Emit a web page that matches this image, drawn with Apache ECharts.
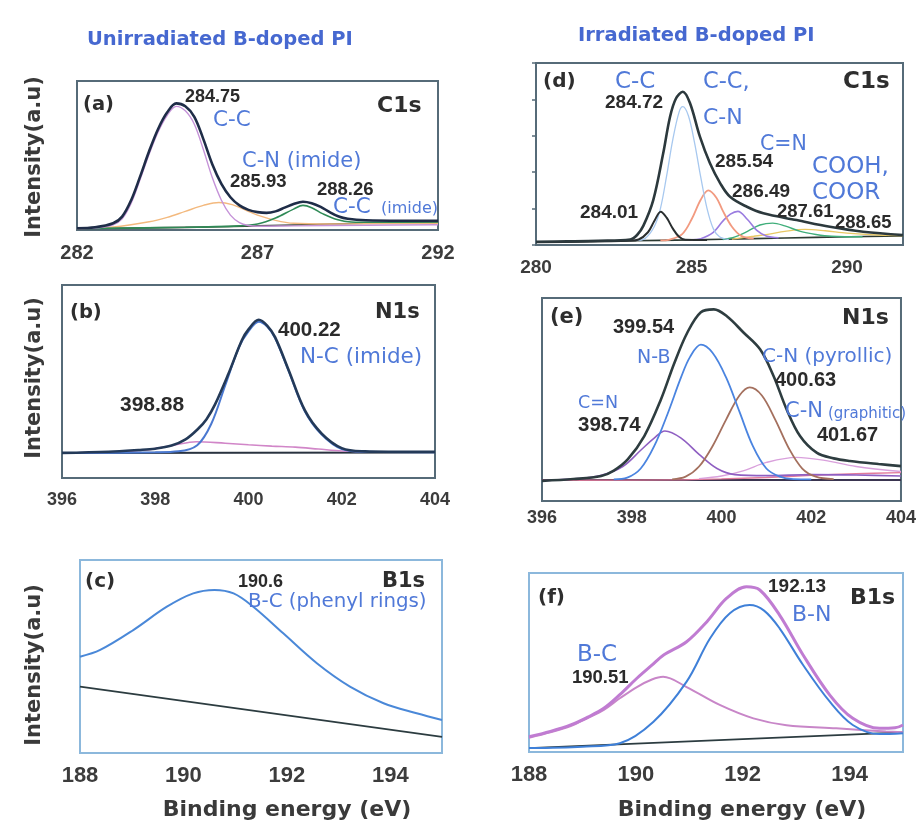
<!DOCTYPE html>
<html>
<head>
<meta charset="utf-8">
<script src="https://cdn.jsdelivr.net/npm/echarts@6/dist/echarts.min.js"></script>
<style>
  html, body { margin: 0; padding: 0; background: #fff; }
  #chart { width: 919px; height: 824px; }
</style>
</head>
<body>
<div id="chart"></div>
<script>
// ---- XPS spectra, [binding energy (eV), relative intensity] ----

// (a) C1s, unirradiated
const A_ENVELOPE = [[282,1.2],[282.5,1.8],[283,4.5],[283.25,9],[283.5,20],[283.75,36],[284,53],[284.25,68],[284.5,79],[284.75,85],[285,83],[285.25,76],[285.5,61],[285.75,44],[286,31],[286.25,22],[286.5,16.5],[286.75,13.5],[287,12],[287.25,11.5],[287.5,12.5],[287.75,15],[288,17.5],[288.26,19],[288.5,18],[288.75,15.5],[289,12],[289.25,9],[289.5,7.5],[290,6.5],[291,6.2],[292,6.2]];
const A_CC = [[282,1],[282.5,1.3],[283,3.5],[283.25,7.5],[283.5,18],[283.75,34],[284,51],[284.25,66],[284.5,77],[284.75,83],[285,80],[285.25,71],[285.5,54],[285.75,35],[286,20],[286.25,10],[286.5,5],[286.75,3],[287,2.5],[288,2.8],[290,3.2],[292,3.5]];
const A_CN = [[282,1],[283,2],[284,5.5],[284.5,8.5],[285,12.5],[285.5,16.5],[285.93,18.5],[286.3,17],[286.7,13],[287,10],[287.5,6.5],[288,4.5],[289,4],[290,4.2],[292,4.5]];
const A_IMIDE = [[282,1],[285,1.8],[286.5,2.8],[287,4],[287.5,8],[288,14],[288.26,16.5],[288.5,15],[288.8,11],[289.2,7],[289.6,5.4],[290.2,5.2],[292,5.4]];
const A_BG = [[282,1],[284,1.4],[286,2.2],[288,3.4],[290,4.5],[292,5]];

// (b) N1s, unirradiated
const B_ENVELOPE = [[396,13],[397,13.6],[397.64,14.5],[398,15.2],[398.35,16.8],[398.65,20],[398.92,25.5],[399.1,30.5],[399.28,38],[399.57,54],[399.86,71.5],[400,77],[400.22,82],[400.4,79],[400.57,73],[400.86,56],[401.21,35],[401.57,23],[402,15.5],[402.5,13.8],[403,13.6],[404,13.6]];
const B_NC = [[396,13],[398,13.3],[398.5,13.8],[398.9,17],[399.2,28],[399.5,48],[399.8,68],[400,76],[400.22,81],[400.4,78.5],[400.57,72.5],[400.86,55.5],[401.21,34.5],[401.57,22.5],[402,15],[402.5,13.6],[404,13.4]];
const B_LOW = [[396,13],[397,13.4],[397.8,14.5],[398.4,17],[398.88,18.8],[399.5,18],[400,17.2],[400.5,16.5],[401,16],[401.5,15],[402,14],[403,13.5],[404,13.4]];
const B_BG = [[396,13],[404,13.2]];

// (c) B1s, unirradiated
const C_BC = [[188,49.9],[188.39,53.4],[189.03,63.7],[189.68,75.8],[190.19,82.7],[190.6,84.5],[190.97,82.7],[191.35,75.8],[191.93,62],[192.58,46.5],[193.22,34.4],[193.87,25.8],[194.51,20.6],[195,17.1]];
const C_BG = [[188,34.4],[195,8.4]];

// (d) C1s, irradiated
const D_ENVELOPE = [[280,1.8],[281,2],[282,2.3],[283.03,3],[283.25,5.5],[283.45,10.5],[283.77,24.7],[284.09,50.4],[284.31,70.5],[284.5,80.5],[284.72,84.2],[284.95,78],[285.27,59.5],[285.59,45],[285.92,34],[286.24,26.5],[286.78,21],[287.31,17.4],[288.38,13.7],[289.45,10],[290.52,7.3],[291.8,5.5]];
const D_284 = [[280,1.5],[283,2.3],[283.3,3],[283.6,7],[283.8,13],[284.01,18.3],[284.2,15],[284.4,9],[284.6,4.5],[284.8,2.9],[285.5,2.8]];
const D_CC = [[283.2,2.5],[283.5,3.5],[283.8,10],[284,20],[284.2,38],[284.4,58],[284.6,73],[284.72,76],[284.9,71],[285.1,56],[285.3,37],[285.5,20],[285.7,9],[285.9,4.5],[286.2,3]];
const D_CCN = [[284,2.5],[284.3,3],[284.7,6],[285,14],[285.3,25],[285.54,30],[285.8,26],[286,19],[286.3,10],[286.6,5],[287,3.5]];
const D_CEN = [[285,2.8],[285.3,3.5],[285.7,7],[286,13],[286.25,17],[286.49,18.5],[286.8,14],[287.1,8],[287.4,5],[287.8,4]];
const D_287 = [[286,3],[286.4,4.5],[286.8,7.5],[287.2,11],[287.61,12],[288,10.5],[288.5,7.5],[289,5.8],[289.5,4.8],[290.5,4.5]];
const D_COOH = [[286.3,3.2],[287,4.8],[287.5,6],[288,7.5],[288.65,8.6],[289.3,7.8],[290,6.5],[291,5.5],[291.8,5.2]];
const D_BG = [[280,1.5],[283,2.3],[285,2.8],[287,3.5],[289,4.2],[291.8,5]];

// (e) N1s, irradiated
const E_ENVELOPE = [[396,9.9],[396.7,10.8],[397.32,12.3],[397.6,15],[397.91,20.5],[398.28,32],[398.65,50],[398.95,68],[399.24,83],[399.54,93],[399.83,94.4],[400.12,91],[400.49,83],[400.86,74.7],[401.16,61.6],[401.45,45.2],[401.75,32],[402.12,23.8],[402.5,21],[402.86,19.7],[403.5,18.2],[404,17.2]];
const E_NB = [[397.6,10.7],[397.9,11.5],[398.2,16],[398.5,27],[398.8,43],[399.1,61],[399.3,71],[399.54,77],[399.8,73],[400.1,61],[400.4,44],[400.7,27],[401,16],[401.3,12],[401.6,10.8],[402,10.7]];
const E_CEN = [[396,10],[396.8,11],[397.3,12.5],[397.8,17],[398.2,25],[398.5,31],[398.74,34.5],[399.1,31],[399.5,23],[399.9,16],[400.3,13],[401,12.5],[402,13],[403,12.8],[404,12.3]];
const E_PYR = [[398.9,10.7],[399.2,12],[399.5,17],[399.8,27],[400.1,40],[400.4,52],[400.63,56],[400.9,52],[401.2,40],[401.5,26],[401.8,16],[402.1,12],[402.5,10.8]];
const E_GRA = [[399.5,11],[400,12.3],[400.5,15],[401,19],[401.67,21.5],[402.3,20],[403,17],[404,14.5]];
const E_BG = [[396,10.2],[399,10.4],[400,10.9],[401,11.6],[402,12.6],[403,13.4],[404,14]];
const E_FLAT = [[396,10.4],[404,10.4]];

// (f) B1s, irradiated
const F_ENVELOPE = [[188,8.5],[188.4,11.5],[188.78,15.1],[189.1,19.5],[189.4,24.4],[189.7,32],[190.02,41.2],[190.3,48.5],[190.52,54.2],[190.95,61.6],[191.33,72.8],[191.7,85.9],[192.07,92.3],[192.32,90.5],[192.69,76.5],[193.13,54.2],[193.63,31.8],[194.06,18.8],[194.56,13.2],[194.85,13.5],[195,15.1]];
const F_BN = [[188,2.2],[189,3],[189.7,4.9],[190.33,16.9],[190.95,39.3],[191.39,63.5],[191.76,77.5],[192.13,82.1],[192.4,79],[192.69,69.1],[193.13,48.6],[193.63,28.1],[194.06,15.1],[194.56,10],[195,10.5]];
const F_BC = [[188,8],[188.4,11],[188.78,14.5],[189.1,19],[189.4,23.5],[189.7,30],[190.02,36.3],[190.3,40.5],[190.51,42],[190.95,36.3],[191.57,26.3],[192.2,18.8],[192.82,15],[193.75,13.2],[194.68,11.5],[195,11]];
const F_BG = [[188,2.2],[195,11]];

// ---- axis ranges and tick labels ----
const X_RANGES = [[282,292],[396,404],[188,195],[280,291.8],[396,404],[188,195]];
const X_TICKS = [[282,287,292],[396,398,400,402,404],[188,190,192,194],[280,285,290],[396,398,400,402,404],[188,190,192,194]];

// ---- layout ----
const FONT_TXT = "'DejaVu Sans', sans-serif";
const FONT_NUM = "'Liberation Sans', Arial, sans-serif";
const BLUE = '#5079d8';
const DARK = '#2b2b2b';

const panels = [
  { left: 77,  top: 81,  width: 361, height: 149, border: '#566b78', tickSize: 20, margin: 13 },
  { left: 62,  top: 285, width: 373, height: 193, border: '#566b78', tickSize: 18, margin: 13 },
  { left: 80,  top: 560, width: 362, height: 193, border: '#8cb8dc', tickSize: 22, margin: 12 },
  { left: 536, top: 63,  width: 367, height: 182, border: '#566b78', tickSize: 19, margin: 13 },
  { left: 542, top: 298, width: 361, height: 203, border: '#566b78', tickSize: 18, margin: 8 },
  { left: 529, top: 573, width: 374, height: 179, border: '#8cb8dc', tickSize: 22, margin: 12 }
];

const grid = panels.map(p => ({
  left: p.left, top: p.top, width: p.width, height: p.height,
  show: true, borderColor: p.border, borderWidth: 2, backgroundColor: 'transparent'
}));

const xAxis = panels.map((p, i) => ({
  type: 'value', gridIndex: i, min: X_RANGES[i][0], max: X_RANGES[i][1],
  axisLine: { show: false }, axisTick: { show: false }, splitLine: { show: false },
  axisLabel: {
    customValues: X_TICKS[i], fontSize: p.tickSize, fontFamily: FONT_NUM,
    fontWeight: 'bold', color: '#3c3c3c', margin: p.margin
  }
}));

const yAxis = panels.map((p, i) => ({
  type: 'value', gridIndex: i, min: 0, max: 100, interval: 20,
  axisLine: { show: false }, splitLine: { show: false }, axisLabel: { show: false },
  axisTick: i === 3 ? { show: true, length: 4, inside: false, lineStyle: { color: '#566b78', width: 1.5 } } : { show: false }
}));

function line(grid, data, color, width, z) {
  return {
    type: 'line', xAxisIndex: grid, yAxisIndex: grid, data: data,
    showSymbol: false, smooth: 0.35, silent: true, z: z || 2,
    lineStyle: { color: color, width: width }
  };
}

const series = [
  // (a)
  line(0, A_BG, '#3d4a3a', 1.6),
  line(0, A_CN, '#f3b97e', 1.4),
  line(0, A_IMIDE, '#2f8a56', 1.6),
  line(0, A_CC, '#c592d8', 1.4),
  line(0, A_ENVELOPE, '#1f2d48', 2.6, 4),
  // (b)
  line(1, B_BG, '#2a3340', 2),
  line(1, B_LOW, '#d186c8', 1.6),
  line(1, B_NC, '#4a78d0', 2),
  line(1, B_ENVELOPE, '#243a58', 2.6, 4),
  // (c)
  line(2, C_BG, '#2c3c40', 1.8),
  line(2, C_BC, '#4a88d8', 2, 4),
  // (d)
  line(3, D_BG, '#2c3a32', 1.6),
  line(3, D_COOH, '#e8c864', 1.4),
  line(3, D_287, '#3fae7a', 1.4),
  line(3, D_CEN, '#9a7ce0', 1.6),
  line(3, D_CCN, '#f29a80', 1.8),
  line(3, D_CC, '#a7c8ef', 1.3),
  line(3, D_284, '#2a2f30', 2),
  line(3, D_ENVELOPE, '#2c393d', 2.6, 4),
  // (e)
  line(4, E_FLAT, '#3a3550', 2),
  line(4, E_BG, '#e27a9a', 1.4),
  line(4, E_GRA, '#d9a0dc', 1.4),
  line(4, E_CEN, '#8f5fc2', 1.6),
  line(4, E_PYR, '#a4705e', 1.8),
  line(4, E_NB, '#4a84e0', 1.8),
  line(4, E_ENVELOPE, '#2e3d40', 2.6, 4),
  // (f)
  line(5, F_BG, '#2c3c40', 1.8),
  line(5, F_BC, '#c886c8', 2),
  line(5, F_BN, '#3f80d8', 2),
  line(5, F_ENVELOPE, '#c07cd2', 3, 4)
];

// text annotations placed on the canvas
const T = (text, x, y, size, fill, font, weight) => ({
  type: 'text', x: x, y: y, silent: true, z: 10,
  style: { text: text, fontSize: size, fill: fill, fontFamily: font, fontWeight: weight || 'normal',
           align: 'left', verticalAlign: 'middle' }
});
const num = (t, x, y, s) => T(t, x, y, s, DARK, FONT_NUM, 'bold');
const blue = (t, x, y, s) => T(t, x, y, s, BLUE, FONT_TXT);
const tag = (t, x, y, s) => T(t, x, y, s, '#2e2e2e', FONT_TXT, 'bold');

const graphic = [
  T('Unirradiated B-doped PI', 87, 40, 19.5, '#4668d0', FONT_TXT, 'bold'),
  T('Irradiated B-doped PI', 578, 36, 19.5, '#4668d0', FONT_TXT, 'bold'),

  // (a)
  tag('(a)', 83, 105, 19.5), tag('C1s', 377, 106, 22),
  num('284.75', 185, 97, 18), blue('C-C', 213, 120, 21.5),
  blue('C-N (imide)', 242, 162, 21), num('285.93', 230, 182, 18.5),
  num('288.26', 317, 190, 18.5), blue('C-C', 333, 207, 21.5), blue('(imide)', 381, 209, 16),

  // (b)
  tag('(b)', 70, 313, 19.5), tag('N1s', 375, 313, 21),
  num('400.22', 278, 330, 20.5), blue('N-C (imide)', 300, 357, 21.5),
  num('398.88', 120, 405, 21),

  // (c)
  tag('(c)', 85, 582, 20), num('190.6', 238, 582, 18), tag('B1s', 382, 582, 21),
  blue('B-C (phenyl rings)', 248, 602, 19.8),

  // (d)
  tag('(d)', 543, 82, 20), blue('C-C', 615, 82, 23), num('284.72', 605, 103, 19),
  blue('C-C,', 703, 82, 22.5), blue('C-N', 703, 118, 22), tag('C1s', 843, 82, 23),
  blue('C=N', 760, 145, 20.5), num('285.54', 715, 162, 19),
  blue('COOH,', 812, 167, 23), blue('COOR', 812, 193, 23),
  num('286.49', 732, 192, 19), num('284.01', 580, 213, 19),
  num('287.61', 777, 212, 18.5), num('288.65', 835, 223, 18.5),

  // (e)
  tag('(e)', 550, 318, 21), num('399.54', 613, 327, 20), tag('N1s', 842, 318, 22),
  blue('N-B', 637, 358, 19), blue('C-N (pyrollic)', 762, 357, 20),
  num('400.63', 775, 380, 20), blue('C=N', 578, 403, 17.5), num('398.74', 578, 425, 20.5),
  blue('C-N', 785, 412, 21), blue('(graphitic)', 828, 414, 15), num('401.67', 817, 435, 20),

  // (f)
  tag('(f)', 538, 598, 20), num('192.13', 768, 587, 19), tag('B1s', 850, 598, 22),
  blue('B-N', 792, 615, 22), blue('B-C', 577, 655, 23), num('190.51', 572, 678, 18.5),

  // axis titles
  ...[157, 378, 665].map(cy => ({
    type: 'text', x: 35, y: cy, rotation: Math.PI / 2, silent: true, z: 10,
    style: { text: 'Intensity(a.u)', fontSize: 21, fontFamily: FONT_TXT, fontWeight: 'bold',
             fill: '#3a3a3a', align: 'center', verticalAlign: 'middle' }
  })),
  ...[287, 742].map(cx => ({
    type: 'text', x: cx, y: 810, silent: true, z: 10,
    style: { text: 'Binding energy (eV)', fontSize: 22, fontFamily: FONT_TXT, fontWeight: 'bold',
             fill: '#3a3a3a', align: 'center', verticalAlign: 'middle' }
  }))
];

const chart = echarts.init(document.getElementById('chart'), null, { renderer: 'canvas' });
chart.setOption({
  animation: false,
  backgroundColor: '#ffffff',
  grid: grid,
  xAxis: xAxis,
  yAxis: yAxis,
  series: series,
  graphic: graphic
});
</script>
</body>
</html>
